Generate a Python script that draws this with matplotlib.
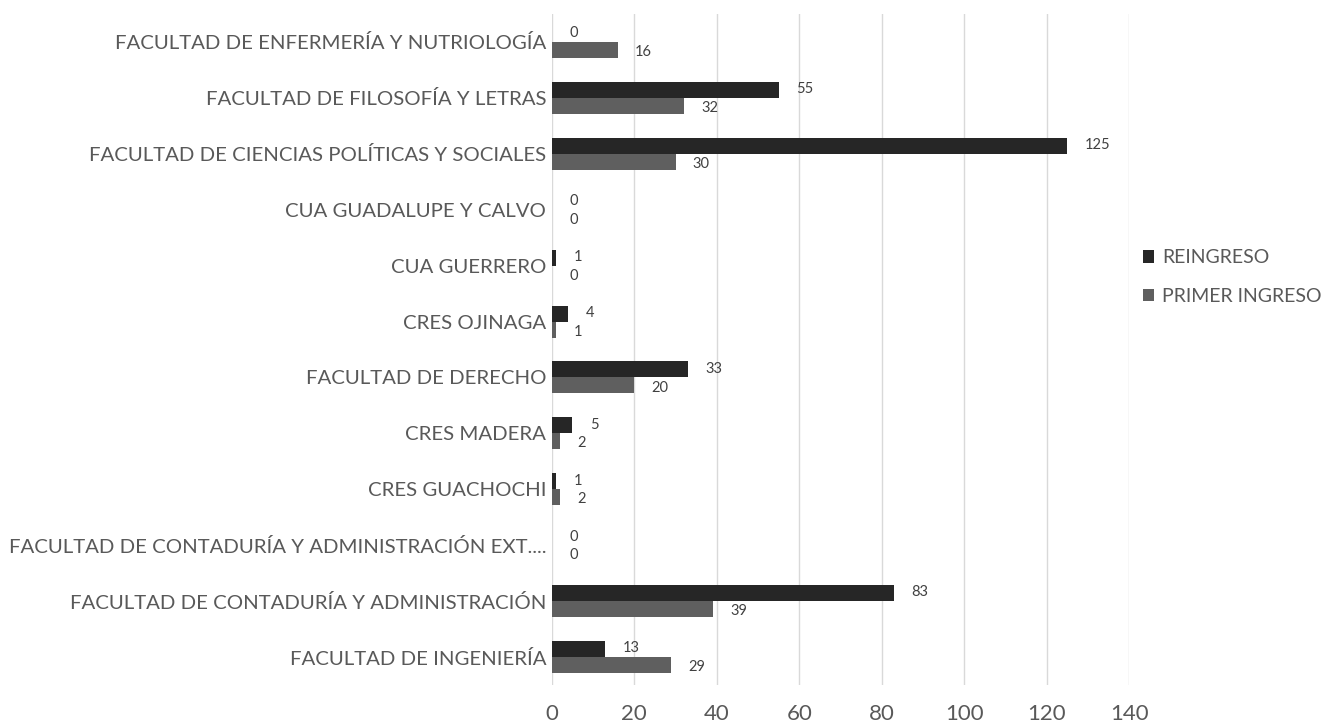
import matplotlib.pyplot as plt
import numpy as np

plt.rcParams['font.family'] = ['Lato', 'DejaVu Sans']

categories = [
    "FACULTAD DE INGENIERÍA",
    "FACULTAD DE CONTADURÍA Y ADMINISTRACIÓN",
    "FACULTAD DE CONTADURÍA Y ADMINISTRACIÓN EXT....",
    "CRES GUACHOCHI",
    "CRES MADERA",
    "FACULTAD DE DERECHO",
    "CRES OJINAGA",
    "CUA GUERRERO",
    "CUA GUADALUPE Y CALVO",
    "FACULTAD DE CIENCIAS POLÍTICAS Y SOCIALES",
    "FACULTAD DE FILOSOFÍA Y LETRAS",
    "FACULTAD DE ENFERMERÍA Y NUTRIOLOGÍA",
]
reingreso = [13, 83, 0, 1, 5, 33, 4, 1, 0, 125, 55, 0]
primer_ingreso = [29, 39, 0, 2, 2, 20, 1, 0, 0, 30, 32, 16]
xticks = [0, 20, 40, 60, 80, 100, 120, 140]

fig = plt.figure(figsize=(13.33, 7.25), dpi=100)
ax = fig.add_axes([0.414, 0.0552, 0.433, 0.9255])

y = np.arange(len(categories))
h = 0.286
ax.barh(y + h / 2, reingreso, height=h, color='#262626', label='REINGRESO', zorder=3)
ax.barh(y - h / 2, primer_ingreso, height=h, color='#5f5f5f', label='PRIMER INGRESO', zorder=3)

# data labels, offset right of bar end
for yi, v in zip(y, reingreso):
    ax.annotate(str(v), (v, yi + h / 2), xytext=(12.5, 0.5), textcoords='offset points',
                va='center', ha='left', fontsize=10.5, color='#404040')
for yi, v in zip(y, primer_ingreso):
    ax.annotate(str(v), (v, yi - h / 2), xytext=(12.5, -1.5), textcoords='offset points',
                va='center', ha='left', fontsize=10.5, color='#404040')

ax.set_xlim(0, 140)
ax.set_ylim(-0.5, len(categories) - 0.5)
ax.set_xticks(xticks)
ax.set_yticks(y)
ax.set_yticklabels(categories)
ax.tick_params(axis='x', length=0, labelsize=16, labelcolor='#595959', pad=14)
ax.tick_params(axis='y', length=0, labelsize=14.7, labelcolor='#595959', pad=4)
ax.grid(axis='x', color='#d9d9d9', linewidth=1, zorder=0)
for s in ax.spines.values():
    s.set_visible(False)

leg = ax.legend(loc='center left', bbox_to_anchor=(1.0, 0.608), frameon=False,
                fontsize=14, handlelength=0.6, handleheight=0.6, handletextpad=0.4,
                labelspacing=1.1, borderaxespad=0.3)
for t in leg.get_texts():
    t.set_color('#595959')

fig.savefig('out.png', dpi=100)
